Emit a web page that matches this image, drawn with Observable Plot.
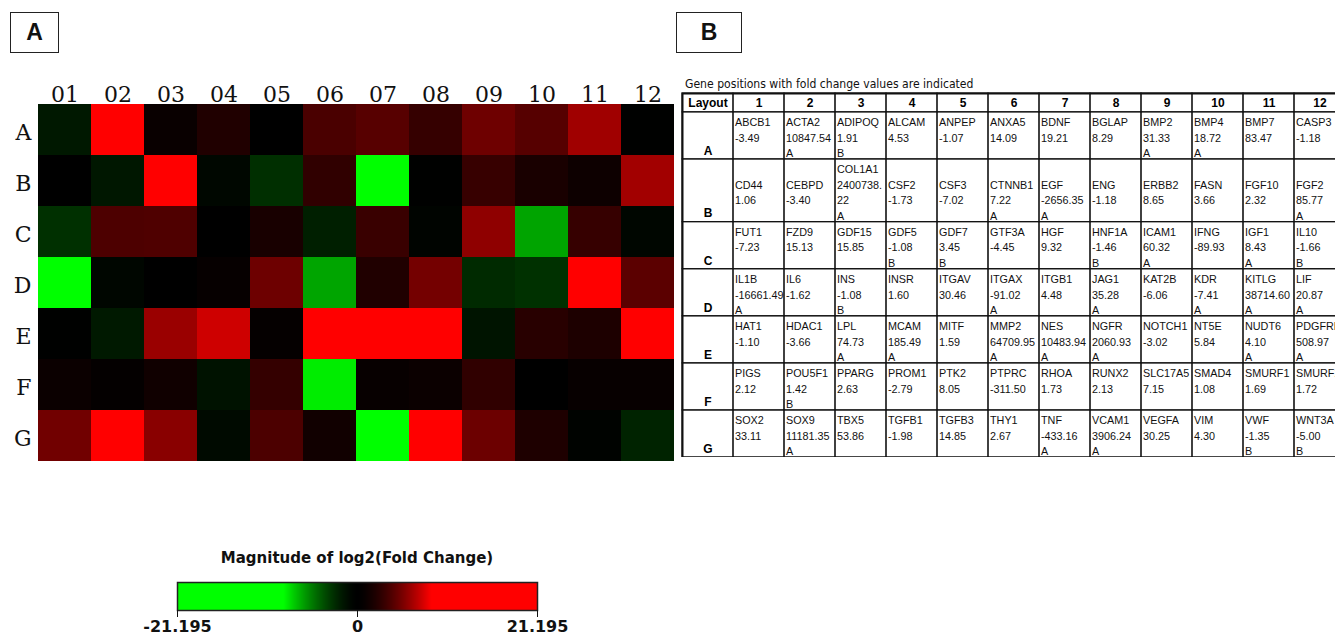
<!DOCTYPE html>
<html><head><meta charset="utf-8">
<script src="https://cdn.jsdelivr.net/npm/d3@7"></script>
<script src="https://cdn.jsdelivr.net/npm/@observablehq/plot@0.6"></script>
<style>
html,body{margin:0;padding:0;background:#fff;}
body{width:1335px;height:636px;overflow:hidden;position:relative;}
svg{max-width:none !important;}
.abs{position:absolute;}
.panel{position:absolute;border:1.3px solid #222;box-sizing:border-box;font:bold 23px "Liberation Sans",Arial,sans-serif;display:flex;align-items:center;justify-content:center;color:#111;}
#tableTitle{font:13px "Liberation Sans Narrow","DejaVu Sans Condensed","Open Sans",sans-serif;line-height:13px;white-space:nowrap;color:#111;transform:scaleX(0.93);transform-origin:0 0;}
#legendTitle{font:bold 15px "DejaVu Sans",sans-serif;line-height:15px;text-align:center;color:#111;}
</style></head><body>
<div class="panel" style="left:10px;top:12px;width:49px;height:41px">A</div>
<div class="panel" style="left:676px;top:12px;width:66px;height:41px">B</div>
<div id="heat" class="abs" style="left:0;top:70px;width:685px"></div>
<div id="tableTitle" class="abs" style="left:685px;top:77px">Gene positions with fold change values are indicated</div>
<div id="table" class="abs" style="left:680px;top:88px;width:667px"></div>
<div id="legendTitle" class="abs" style="left:137px;top:551px;width:440px">Magnitude of log2(Fold Change)</div>
<div id="legend" class="abs" style="left:137px;top:572px;width:440px"></div>
<script>
const rows = ["A","B","C","D","E","F","G"];
const columns = ["1","2","3","4","5","6","7","8","9","10","11","12"];
const genes = [
 ["ABCB1","ACTA2","ADIPOQ","ALCAM","ANPEP","ANXA5","BDNF","BGLAP","BMP2","BMP4","BMP7","CASP3"],
 ["CD44","CEBPD","COL1A1","CSF2","CSF3","CTNNB1","EGF","ENG","ERBB2","FASN","FGF10","FGF2"],
 ["FUT1","FZD9","GDF15","GDF5","GDF7","GTF3A","HGF","HNF1A","ICAM1","IFNG","IGF1","IL10"],
 ["IL1B","IL6","INS","INSR","ITGAV","ITGAX","ITGB1","JAG1","KAT2B","KDR","KITLG","LIF"],
 ["HAT1","HDAC1","LPL","MCAM","MITF","MMP2","NES","NGFR","NOTCH1","NT5E","NUDT6","PDGFRB"],
 ["PIGS","POU5F1","PPARG","PROM1","PTK2","PTPRC","RHOA","RUNX2","SLC17A5","SMAD4","SMURF1","SMURF2"],
 ["SOX2","SOX9","TBX5","TGFB1","TGFB3","THY1","TNF","VCAM1","VEGFA","VIM","VWF","WNT3A"]
];
const foldChanges = [
 ["-3.49","10847.54","1.91","4.53","-1.07","14.09","19.21","8.29","31.33","18.72","83.47","-1.18"],
 ["1.06","-3.40","2400738.22","-1.73","-7.02","7.22","-2656.35","-1.18","8.65","3.66","2.32","85.77"],
 ["-7.23","15.13","15.85","-1.08","3.45","-4.45","9.32","-1.46","60.32","-89.93","8.43","-1.66"],
 ["-16661.49","-1.62","-1.08","1.60","30.46","-91.02","4.48","35.28","-6.06","-7.41","38714.60","20.87"],
 ["-1.10","-3.66","74.73","185.49","1.59","64709.95","10483.94","2060.93","-3.02","5.84","4.10","508.97"],
 ["2.12","1.42","2.63","-2.79","8.05","-311.50","1.73","2.13","7.15","1.08","1.69","1.72"],
 ["33.11","11181.35","53.86","-1.98","14.85","2.67","-433.16","3906.24","30.25","4.30","-1.35","-5.00"]
];
const groups = [
 ["","A","B","","","","","","A","A","",""],
 ["","","A","","","A","A","","","","","A"],
 ["","","","B","B","","","B","A","","A","B"],
 ["A","","B","","","A","","A","","A","A","A"],
 ["","","A","A","","A","A","A","","","A","A"],
 ["","B","","","","","","","","","",""],
 ["","A","","","","","A","A","","","B","B"]
];
const layoutLabel = "Layout";

// ---------- heatmap data ----------
const heat = [];
rows.forEach((r, i) => columns.forEach((c, j) => {
  const fc = +foldChanges[i][j];
  heat.push({row: r, col: c.padStart(2, "0"), log2: Math.sign(fc) * Math.log2(Math.abs(fc))});
}));
const M = d3.max(heat, d => Math.abs(d.log2));
const SAT = 8.7, GAMMA = 1.5;
const interp = t => {
  const v = (t - 0.5) * 2 * M;
  const a = Math.round(255 * Math.min(1, Math.abs(v) / SAT) ** GAMMA);
  return v < 0 ? `rgb(0,${a},0)` : `rgb(${a},0,0)`;
};
const colorSpec = {type: "linear", domain: [-M, M], interpolate: interp};

const heatPlot = Plot.plot({
  width: 685, height: 396,
  marginLeft: 34, marginRight: 8, marginTop: 34, marginBottom: 5,
  style: {fontFamily: "'DejaVu Serif', serif", fontSize: "22px", color: "#111", background: "transparent"},
  x: {domain: columns.map(c => c.padStart(2, "0")), padding: 0},
  y: {domain: rows, padding: 0},
  color: colorSpec,
  marks: [
    Plot.cell(heat, {x: "col", y: "row", fill: "log2", inset: 0, shapeRendering: "crispEdges"}),
    Plot.axisX({anchor: "top", tickSize: 0, tickPadding: 3, label: null}),
    Plot.axisY({anchor: "left", tickSize: 0, tickPadding: 3, label: null, dy: 3})
  ]
});
document.getElementById("heat").append(heatPlot);

// ---------- table ----------
const HEADER = 1.2;
const splitValue = v => v.length > 9 ? v.slice(0, 8) + "\n" + v.slice(8) : v;
const cellLines = (i, j) => 2 + splitValue(foldChanges[i][j]).split("\n").length;
const rowLines = rows.map((r, i) => d3.max(columns, (c, j) => cellLines(i, j)));
const rowStart = [];
let acc = HEADER;
rowLines.forEach(n => { rowStart.push(acc); acc += n; });
const total = acc;

const grid = [{x1: 0, x2: 1, y1: 0, y2: HEADER, text: layoutLabel}];
columns.forEach((c, j) => grid.push({x1: j + 1, x2: j + 2, y1: 0, y2: HEADER, text: c}));
const labels = [], content = [];
rows.forEach((r, i) => {
  const y1 = rowStart[i], y2 = rowStart[i] + rowLines[i];
  grid.push({x1: 0, x2: 1, y1, y2});
  labels.push({x: 0.5, y: y2 - 1, text: r});
  columns.forEach((c, j) => {
    grid.push({x1: j + 1, x2: j + 2, y1, y2});
    content.push({x: j + 1, y: y2 - cellLines(i, j),
      text: genes[i][j] + "\n" + splitValue(foldChanges[i][j]) + "\n" + groups[i][j]});
  });
});
const headers = grid.filter(d => d.text !== undefined);
const FS = 10.8;
const LH = 15.7 / FS;

const tablePlot = Plot.plot({
  width: 667, height: 369,
  marginLeft: 2, marginRight: 2, marginTop: 5, marginBottom: 0,
  style: {fontFamily: "'Liberation Sans', Arial, sans-serif", fontSize: "11px", color: "#111", background: "transparent"},
  x: {domain: [0, columns.length + 1], axis: null},
  y: {domain: [0, total], reverse: true, axis: null},
  marks: [
    Plot.rect(grid, {x1: "x1", x2: "x2", y1: "y1", y2: "y2", stroke: "#111", strokeWidth: 1.1, fill: "none"}),
    Plot.frame({stroke: "#111", strokeWidth: 2}),
    Plot.text(headers, {x: d => (d.x1 + d.x2) / 2, y: d => d.y2 / 2, text: "text", fontWeight: "bold", fontSize: 12, fill: "#000"}),
    Plot.text(labels, {x: "x", y: "y", text: "text", fontWeight: "bold", fontSize: 12, lineAnchor: "top", dy: 2.5, fill: "#000"}),
    Plot.text(content, {x: "x", y: "y", text: "text", textAnchor: "start", lineAnchor: "top", dx: 1.5, dy: 2.5, lineHeight: LH, fontSize: FS, fill: "#111"})
  ]
});
document.getElementById("table").append(tablePlot);

// ---------- legend ----------
const legendPlot = Plot.plot({
  width: 440, height: 64,
  marginLeft: 40, marginRight: 40, marginTop: 10, marginBottom: 26,
  style: {fontFamily: "'DejaVu Sans', sans-serif", fontSize: "16px", fontWeight: "bold", color: "#111", background: "transparent"},
  x: {domain: [-M, M]},
  y: {domain: [0, 1], axis: null},
  color: colorSpec,
  marks: [
    Plot.raster({fill: (x, y) => x, x1: -M, x2: M, y1: 0, y2: 1}),
    Plot.frame({stroke: "#222", strokeWidth: 1.5}),
    Plot.axisX({ticks: [-M, 0, M], tickFormat: d => d === 0 ? "0" : d.toFixed(3), tickSize: 7, tickPadding: 3, label: null})
  ]
});
document.getElementById("legend").append(legendPlot);
</script>
</body></html>
